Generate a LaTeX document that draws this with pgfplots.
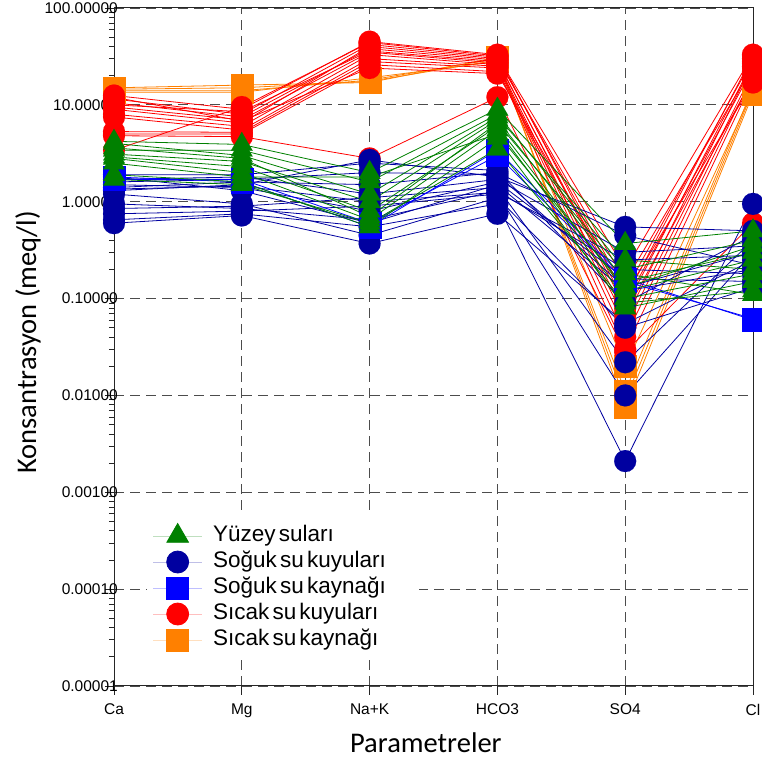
\documentclass[border=0pt]{standalone}
\usepackage{pgfplots}
\pgfplotsset{compat=1.18}
\usepackage{fontspec}
\setmainfont{Liberation Sans}
\newfontfamily\carlito{Carlito}
\definecolor{cG}{RGB}{0,128,0}
\definecolor{cB}{RGB}{0,0,160}
\definecolor{cS}{RGB}{0,0,255}
\definecolor{cR}{RGB}{255,0,0}
\definecolor{cO}{RGB}{255,128,0}
\newcommand{\wsp}{\hspace{0.14em}}
\pgfplotsset{
  gG/.style={color=cG, line width=0.8pt, mark=triangle*, mark size=12.5pt, mark options={fill=cG, draw=cG, line width=0.1pt}, forget plot},
  gB/.style={color=cB, line width=0.8pt, mark=*, mark size=11pt, mark options={fill=cB, draw=cB, line width=0.1pt}, forget plot},
  gS/.style={color=cS, line width=0.8pt, mark=square*, mark size=11pt, mark options={fill=cS, draw=cS, line width=0.1pt}, forget plot},
  gR/.style={color=cR, line width=0.8pt, mark=*, mark size=11pt, mark options={fill=cR, draw=cR, line width=0.1pt}, forget plot},
  gO/.style={color=cO, line width=0.8pt, mark=square*, mark size=11pt, mark options={fill=cO, draw=cO, line width=0.1pt}, forget plot},
}
\begin{document}
\begin{tikzpicture}
\begin{axis}[
  set layers, mark layer=axis foreground,
  scale only axis, width=639pt, height=678pt,
  ymode=log, ymin=1e-5, ymax=100, xmin=0, xmax=5,
  xtick={0,1,2,3,4,5}, xticklabels={Ca,Mg,Na+K,HCO3,SO4,Cl},
  ytick={1e-5,1e-4,1e-3,0.01,0.1,1,10,100},
  yticklabels={0.00001,0.00010,0.00100,0.01000,0.10000,1.00000,10.00000,100.00000},
  minor ytick={2e-5,3e-5,4e-5,5e-5,6e-5,7e-5,8e-5,9e-5,2e-4,3e-4,4e-4,5e-4,6e-4,7e-4,8e-4,9e-4,2e-3,3e-3,4e-3,5e-3,6e-3,7e-3,8e-3,9e-3,0.02,0.03,0.04,0.05,0.06,0.07,0.08,0.09,0.2,0.3,0.4,0.5,0.6,0.7,0.8,0.9,2,3,4,5,6,7,8,9,20,30,40,50,60,70,80,90},
  tick pos=left, tick align=outside,
  major tick length=9pt, minor tick length=5pt,
  tick style={black!85, line width=0.8pt},
  axis line style={black!85, line width=1pt},
  xmajorgrids, ymajorgrids,
  major grid style={black!70, line width=0.8pt, dash pattern=on 10pt off 6pt},
  ticklabel style={font=\fontsize{15.5}{18}\selectfont},
  yticklabel style={anchor=east, inner sep=0pt, xshift=13pt},
  xticklabel style={anchor=north, inner sep=0pt, yshift=-9pt},
  xlabel={Parametreler}, ylabel={Konsantrasyon (meq/l)},
  label style={font=\carlito\fontsize{28.5}{34}\selectfont},
  xlabel style={at={(axis description cs:0.488,-0.0988)}, anchor=base},
  ylabel style={at={(axis description cs:-0.1346,0.507)}, anchor=center},
  legend cell align=left,
  legend image code/.code={%
    \draw[#1, overlay, mark repeat=2, mark phase=2] plot coordinates {(0pt,0pt) (24.5pt,0pt) (49pt,0pt)};
    \path[draw=none, fill=none] (0pt,-10.5pt) rectangle (49pt,10.5pt);},
  legend style={at={(axis description cs:0.0516,0.251)}, anchor=north west, draw=none, fill=white,
    font=\fontsize{22.5}{26}\selectfont,
    inner xsep=6pt, inner ysep=9.5pt, row sep=5pt, column sep=11pt,
    nodes={inner sep=0pt, text height=16pt, text depth=5pt, text width=200pt}},
]
\coordinate (LL) at (rel axis cs:0,0);
\coordinate (UR) at (rel axis cs:1,1);
\addlegendimage{line width=0.8pt, color=cG!25, mark=triangle*, mark size=12.5pt, mark options={draw=cG, fill=cG}}
\addlegendentry{Yüzey\wsp suları}
\addlegendimage{line width=0.8pt, color=cB!25, mark=*, mark size=11pt, mark options={draw=cB, fill=cB}}
\addlegendentry{Soğuk\wsp su\wsp kuyuları}
\addlegendimage{line width=0.8pt, color=cS!25, mark=square*, mark size=11pt, mark options={draw=cS, fill=cS}}
\addlegendentry{Soğuk\wsp su\wsp kaynağı}
\addlegendimage{line width=0.8pt, color=cR!25, mark=*, mark size=11pt, mark options={draw=cR, fill=cR}}
\addlegendentry{Sıcak\wsp su\wsp kuyuları}
\addlegendimage{line width=0.8pt, color=cO!25, mark=square*, mark size=11pt, mark options={draw=cO, fill=cO}}
\addlegendentry{Sıcak\wsp su\wsp kaynağı}
% Sicak su kaynagi
\addplot[gO] coordinates {(0,15)(1,16)(2,17)(3,31)(4,0.0075)(5,13)};
\addplot[gO] coordinates {(0,14)(1,14)(2,18)(3,30)(4,0.009)(5,14)};
\addplot[gO] coordinates {(0,13.5)(1,13.5)(2,19)(3,28)(4,0.011)(5,15)};
\addplot[gO] coordinates {(0,14.5)(1,15)(2,17.5)(3,29)(4,0.020)(5,14)};
% Sicak su kuyulari
\addplot[gR] coordinates {(0,12.5)(1,9)(2,45)(3,33)(4,0.10)(5,32)};
\addplot[gR] coordinates {(0,11.5)(1,8)(2,42)(3,31)(4,0.12)(5,30)};
\addplot[gR] coordinates {(0,10.5)(1,7.5)(2,38)(3,29)(4,0.08)(5,28)};
\addplot[gR] coordinates {(0,9.5)(1,7)(2,35)(3,27)(4,0.06)(5,27)};
\addplot[gR] coordinates {(0,9)(1,6.5)(2,40)(3,30)(4,0.15)(5,25)};
\addplot[gR] coordinates {(0,8)(1,6)(2,33)(3,26)(4,0.05)(5,22)};
\addplot[gR] coordinates {(0,7.5)(1,5.5)(2,30)(3,25)(4,0.04)(5,20)};
\addplot[gR] coordinates {(0,5.3)(1,5.2)(2,28)(3,24)(4,0.03)(5,18)};
\addplot[gR] coordinates {(0,5)(1,5)(2,26)(3,22)(4,0.07)(5,19)};
\addplot[gR] coordinates {(0,4.8)(1,4.7)(2,2.8)(3,12)(4,0.028)(5,0.6)};
\addplot[gR] coordinates {(0,3.4)(1,9.5)(2,44)(3,32)(4,0.2)(5,33)};
\addplot[gR] coordinates {(0,10)(1,8.5)(2,36)(3,28)(4,0.09)(5,24)};
\addplot[gR] coordinates {(0,12)(1,6.8)(2,24)(3,21)(4,0.11)(5,17)};
% Soguk su kuyulari
\addplot[gB] coordinates {(0,0.60)(1,0.72)(2,0.37)(3,0.75)(4,0.055)(5,0.25)};
\addplot[gB] coordinates {(0,0.65)(1,0.75)(2,0.55)(3,0.95)(4,0.0021)(5,0.95)};
\addplot[gB] coordinates {(0,0.75)(1,0.80)(2,0.9)(3,1.2)(4,0.010)(5,0.30)};
\addplot[gB] coordinates {(0,0.85)(1,0.90)(2,1.1)(3,1.4)(4,0.022)(5,0.40)};
\addplot[gB] coordinates {(0,0.95)(1,0.85)(2,0.65)(3,1.3)(4,0.20)(5,0.18)};
\addplot[gB] coordinates {(0,1.3)(1,1.5)(2,2.7)(3,1.8)(4,0.55)(5,0.50)};
\addplot[gB] coordinates {(0,1.4)(1,1.6)(2,1.5)(3,2.0)(4,0.45)(5,0.22)};
\addplot[gB] coordinates {(0,1.5)(1,1.4)(2,0.8)(3,1.6)(4,0.16)(5,0.15)};
\addplot[gB] coordinates {(0,1.6)(1,1.7)(2,2.0)(3,1.9)(4,0.13)(5,0.30)};
\addplot[gB] coordinates {(0,1.7)(1,1.8)(2,1.2)(3,1.7)(4,0.30)(5,0.35)};
\addplot[gB] coordinates {(0,1.8)(1,1.3)(2,0.6)(3,1.5)(4,0.12)(5,0.20)};
\addplot[gB] coordinates {(0,1.9)(1,1.9)(2,2.5)(3,2.1)(4,0.09)(5,0.45)};
\addplot[gB] coordinates {(0,1.2)(1,0.95)(2,0.45)(3,1.1)(4,0.05)(5,0.13)};
\addplot[gB] coordinates {(0,1.35)(1,1.45)(2,1.0)(3,1.25)(4,0.25)(5,0.28)};
% Soguk su kaynagi
\addplot[gS] coordinates {(0,1.8)(1,1.6)(2,0.55)(3,3.4)(4,0.16)(5,0.060)};
\addplot[gS] coordinates {(0,1.7)(1,1.7)(2,0.6)(3,3.0)(4,0.15)(5,0.062)};
% Yuzey sulari
\addplot[gG] coordinates {(0,4.2)(1,3.9)(2,2.0)(3,9.0)(4,0.37)(5,0.50)};
\addplot[gG] coordinates {(0,3.4)(1,3.4)(2,1.6)(3,8.0)(4,0.20)(5,0.40)};
\addplot[gG] coordinates {(0,3.1)(1,2.6)(2,1.0)(3,7.0)(4,0.15)(5,0.30)};
\addplot[gG] coordinates {(0,2.9)(1,2.3)(2,0.8)(3,6.0)(4,0.12)(5,0.25)};
\addplot[gG] coordinates {(0,2.8)(1,2.0)(2,0.65)(3,5.5)(4,0.10)(5,0.18)};
\addplot[gG] coordinates {(0,1.9)(1,1.6)(2,0.55)(3,4.5)(4,0.08)(5,0.15)};
\addplot[gG] coordinates {(0,1.7)(1,1.5)(2,0.6)(3,3.5)(4,0.09)(5,0.12)};
\addplot[gG] coordinates {(0,4.0)(1,3.0)(2,1.2)(3,7.5)(4,0.25)(5,0.20)};
\addplot[gG] coordinates {(0,3.6)(1,2.8)(2,0.7)(3,6.5)(4,0.18)(5,0.11)};
\addplot[gG] coordinates {(0,2.5)(1,1.8)(2,1.8)(3,5.0)(4,0.13)(5,0.35)};
\end{axis}
\pgfresetboundingbox
\path[use as bounding box] ([xshift=-114pt,yshift=-79pt]LL) rectangle ([xshift=8pt,yshift=8pt]UR);
\end{tikzpicture}
\end{document}
